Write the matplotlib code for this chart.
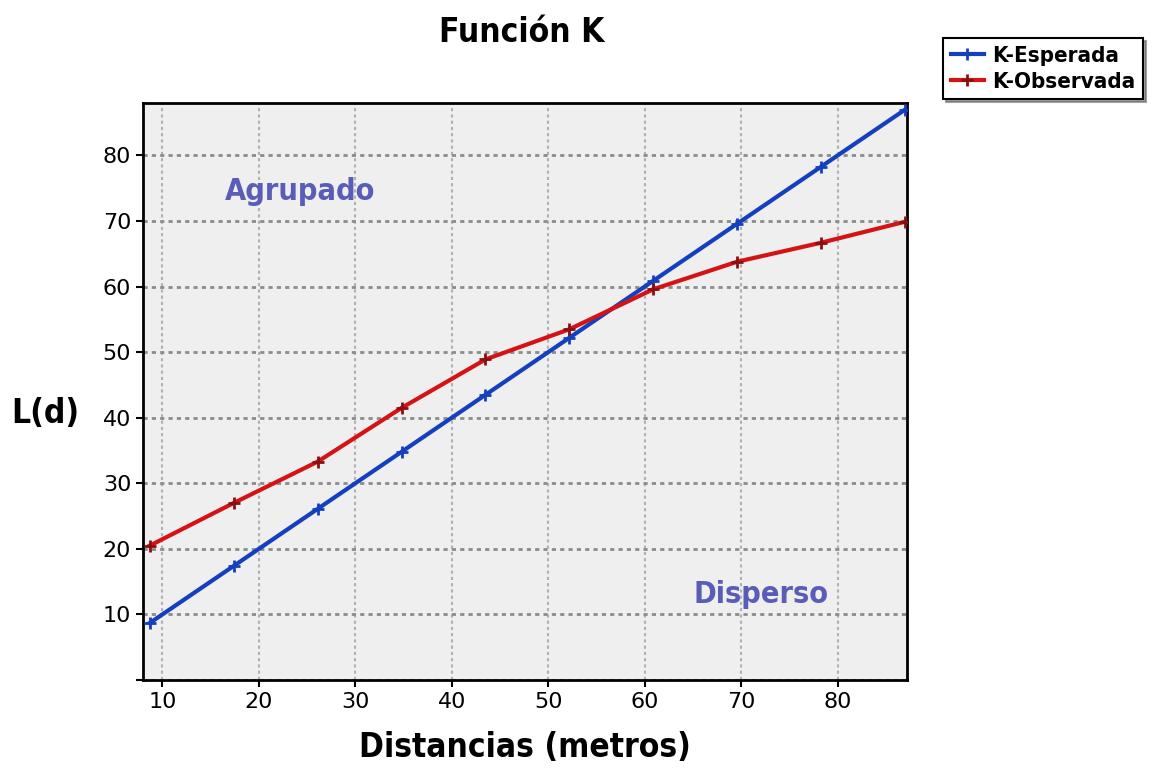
import matplotlib
matplotlib.use("Agg")
import matplotlib.pyplot as plt

distances = [8.7, 17.4, 26.1, 34.8, 43.5, 52.2, 60.9, 69.6, 78.3, 87.0]
k_esperada = [8.7, 17.4, 26.1, 34.8, 43.5, 52.2, 60.9, 69.6, 78.3, 87.0]
k_observada = [20.5, 27.0, 33.3, 41.5, 48.9, 53.5, 59.6, 63.8, 66.7, 69.9]
x_ticks = [10, 20, 30, 40, 50, 60, 70, 80]
y_ticks = [0, 10, 20, 30, 40, 50, 60, 70, 80]
y_tick_labels = ["", "10", "20", "30", "40", "50", "60", "70", "80"]

fig = plt.figure(figsize=(11.59, 7.77), dpi=100)
ax = fig.add_axes([0.1234, 0.1248, 0.6592, 0.7426])
ax.set_facecolor("#efefef")

ax.plot(distances, k_esperada, color="#1440c0", lw=3, marker="+", ms=9, mew=2,
        label="K-Esperada", zorder=3)
ax.plot(distances, k_observada, color="#d41414", lw=3, marker="+", ms=9, mew=2,
        mec="#8a1010", label="K-Observada", zorder=3)

ax.set_xlim(8, 87.2)
ax.set_ylim(0, 88)
ax.set_xticks(x_ticks)
ax.set_yticks(y_ticks)
ax.set_yticklabels(y_tick_labels)
ax.tick_params(labelsize=16, length=5, width=1.5, colors="black")
ax.xaxis.grid(True, color="#b0b0b0", linestyle=(0, (1.5, 1.5)), linewidth=1.5)
ax.yaxis.grid(True, color="#8c8c8c", linestyle=(0, (1.5, 1.5)), linewidth=2)
for s in ax.spines.values():
    s.set_linewidth(2)
    s.set_color("black")

ax.set_xlabel("Distancias (metros)", fontsize=24, fontweight="bold",
              fontstretch="condensed", labelpad=14)
fig.text(0.039, 0.468, "L(d)", fontsize=24, fontweight="bold",
         fontstretch="condensed", ha="center", va="center")
fig.text(0.45, 0.958, "Función K", fontsize=24, fontweight="bold",
         fontstretch="condensed", ha="center", va="center")

ax.text(24.3, 74.5, "Agrupado", color="#5a5db8", fontsize=22, fontweight="bold",
        fontstretch="condensed", ha="center", va="center")
ax.text(72.1, 13.0, "Disperso", color="#5a5db8", fontsize=22, fontweight="bold",
        fontstretch="condensed", ha="center", va="center")

leg = fig.legend(loc="upper left", bbox_to_anchor=(0.804, 0.965),
                 frameon=True, shadow=True, fancybox=False, handlelength=1.5,
                 borderpad=0.35, labelspacing=0.25, handletextpad=0.35,
                 prop={"weight": "bold", "size": 16, "stretch": "condensed"})
leg.get_frame().set_edgecolor("black")
leg.get_frame().set_linewidth(1.5)

fig.savefig("out.png", dpi=100, facecolor="white")
